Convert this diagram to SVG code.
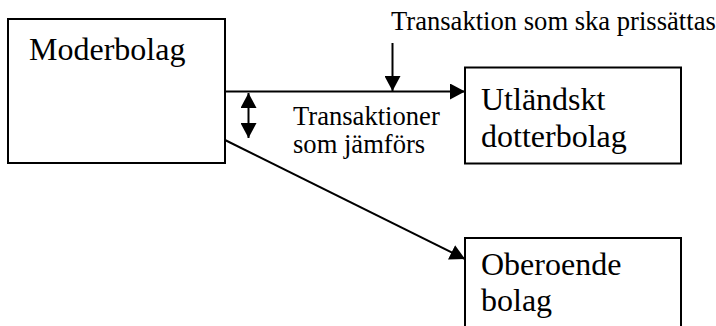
<svg xmlns="http://www.w3.org/2000/svg" width="716" height="326" viewBox="0 0 716 326">
  <style>
    .box { fill: #fff; stroke: #000; stroke-width: 2; }
    .node-text { font-family: "Liberation Serif", serif; font-size: 32px; fill: #000; }
    .note { font-family: "Liberation Serif", serif; font-size: 26.6px; fill: #000; }
    .conn { stroke: #000; stroke-width: 2; fill: none; }
  </style>
  <defs>
    <marker id="arrow" markerUnits="userSpaceOnUse" markerWidth="16" markerHeight="16" refX="15" refY="8" orient="auto-start-reverse" viewBox="0 0 16 16">
      <path d="M0,0 L15,8 L0,16 Z" fill="#000"/>
    </marker>
  </defs>

  <g id="moderbolag">
    <rect class="box" x="8" y="19" width="217" height="144"/>
    <text class="node-text" x="29" y="60">Moderbolag</text>
  </g>

  <g id="utlandskt-dotterbolag">
    <rect class="box" x="465" y="67.5" width="216" height="96"/>
    <text class="node-text" x="481" y="110">Utländskt</text>
    <text class="node-text" x="481" y="147">dotterbolag</text>
  </g>

  <g id="oberoende-bolag">
    <rect class="box" x="465" y="238" width="216" height="100"/>
    <text class="node-text" x="481" y="275">Oberoende</text>
    <text class="node-text" x="481" y="311">bolag</text>
  </g>

  <g id="connectors">
    <line class="conn" x1="225" y1="91.5" x2="465" y2="91.5" marker-end="url(#arrow)"/>
    <line class="conn" x1="225" y1="140" x2="465" y2="259" marker-end="url(#arrow)"/>
    <line class="conn" x1="392.5" y1="43" x2="392.5" y2="91" marker-end="url(#arrow)"/>
    <line class="conn" x1="248.5" y1="93" x2="248.5" y2="138" marker-start="url(#arrow)" marker-end="url(#arrow)"/>
  </g>

  <g id="labels">
    <text class="note" x="391" y="30">Transaktion som ska prissättas</text>
    <text class="note" x="293" y="125">Transaktioner</text>
    <text class="note" x="293" y="153">som jämförs</text>
  </g>
</svg>
